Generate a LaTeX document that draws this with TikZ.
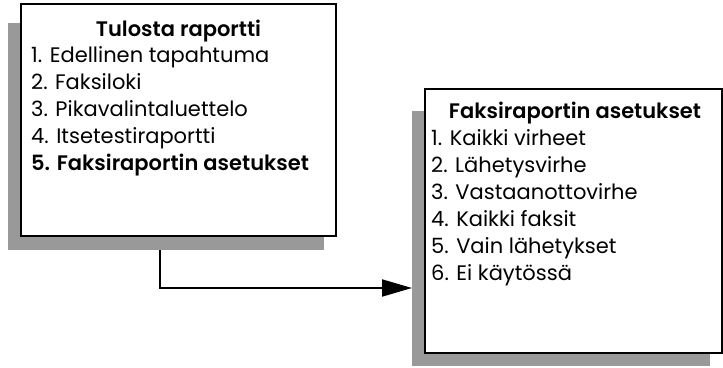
\documentclass[tikz,border=0pt]{standalone}
\usepackage{fontspec}
\setmainfont{Poppins}[BoldFont={Poppins SemiBold}]
\usetikzlibrary{arrows.meta}
\definecolor{shadowgray}{RGB}{153,153,153}
\tikzset{
  x=1pt, y=1pt,
  shadowbox/.style={fill=shadowgray, draw=none},
  framebox/.style={fill=white, draw=black, line width=2pt},
  itemtext/.style={anchor=base west, inner sep=0pt, font=\fontsize{21}{26}\selectfont},
  titletext/.style={anchor=base, inner sep=0pt, font=\fontsize{21}{26}\selectfont\bfseries},
  connector/.style={line width=2pt, -{Triangle[length=30pt,width=17pt]}}
}
\begin{document}
\begin{tikzpicture}
\useasboundingbox (0,0) rectangle (723,-367);
% left box
\draw[shadowbox] (8,-23) rectangle (324,-250);
\draw[framebox] (21,-4) rectangle (336,-236);
\node[titletext] (t1) at (178.5,-36) {Tulosta raportti};
\foreach \txt [count=\i] in {1. Edellinen tapahtuma, 2. Faksiloki, 3. Pikavalintaluettelo, 4. Itsetestiraportti}
  \node[itemtext] (l\i) at (31,{-36-26.8*\i}) {\txt};
\node[itemtext, font=\fontsize{21}{26}\selectfont\bfseries] (l5) at (31,{-36-26.8*5}) {5. Faksiraportin asetukset};
% right box
\draw[shadowbox] (412,-111) rectangle (710,-366);
\coordinate (s2w) at (412,-288);
\draw[framebox] (425,-89) rectangle (722,-353);
\node[titletext] (t2) at (575,-118) {Faksiraportin asetukset};
\foreach \txt [count=\i] in {1. Kaikki virheet, 2. Lähetysvirhe, 3. Vastaanottovirhe, 4. Kaikki faksit, 5. Vain lähetykset, 6. Ei käytössä}
  \node[itemtext] (r\i) at (431,{-118-27*\i}) {\txt};
% connector
\coordinate (a0) at (160,-250);
\draw[connector] (a0) |- (s2w);
\end{tikzpicture}
\end{document}
